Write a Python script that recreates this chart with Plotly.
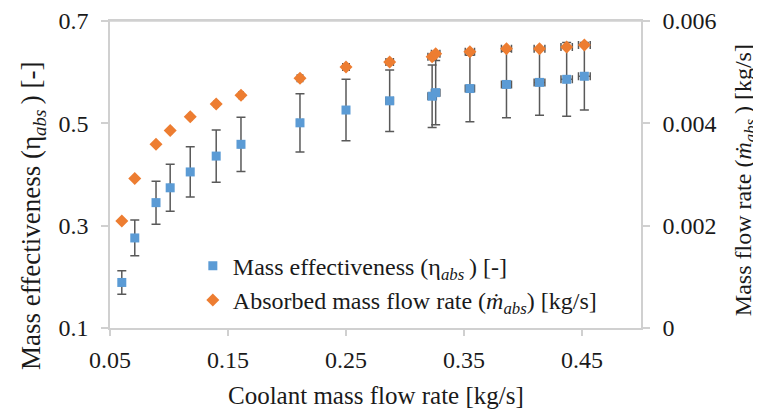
import plotly.graph_objects as go

coolant_flow = [0.060, 0.071, 0.089, 0.101, 0.118, 0.140, 0.161, 0.211, 0.250, 0.287,
                0.323, 0.326, 0.355, 0.386, 0.414, 0.437, 0.452]
mass_eff = [0.189, 0.276, 0.345, 0.374, 0.405, 0.436, 0.459, 0.501, 0.526, 0.544,
            0.553, 0.560, 0.568, 0.576, 0.580, 0.586, 0.592]
mass_eff_err = [0.023, 0.035, 0.042, 0.046, 0.049, 0.051, 0.053, 0.057, 0.060, 0.060,
                0.061, 0.063, 0.065, 0.065, 0.064, 0.072, 0.066]
abs_flow = [0.00209, 0.00292, 0.00359, 0.00386, 0.00413, 0.00438, 0.00455, 0.00488, 0.00510,
            0.00520, 0.00530, 0.00536, 0.00540, 0.00546, 0.00546, 0.00549, 0.00553]

x_ticks = [0.05, 0.15, 0.25, 0.35, 0.45]
y_ticks = [0.1, 0.3, 0.5, 0.7]
y2_ticks = [0, 0.002, 0.004, 0.006]
y2_labels = ["0", "0.002", "0.004", "0.006"]

x_title = "Coolant mass flow rate [kg/s]"
y_title = "Mass effectiveness (η<sub><i>abs</i></sub>\u2009) [-]"
y2_title = "Mass flow rate (<i>ṁ</i><sub><i>abs</i></sub>\u2009) [kg/s]"
name_eff = "Mass effectiveness (η<sub><i>abs</i></sub>\u2009) [-]"
name_flow = "Absorbed mass flow rate (<i>ṁ</i><sub><i>abs</i></sub>) [kg/s]"

FONT = "Liberation Serif"
TXT = "#1a1a1a"
AX = "#d0d0d0"

fig = go.Figure()
fig.add_trace(go.Scatter(
    x=coolant_flow, y=mass_eff, mode="markers", yaxis="y", name=name_eff,
    marker=dict(symbol="square", size=9, color="#5B9BD5"),
    error_y=dict(type="data", array=mass_eff_err, color="#595959", thickness=1.5, width=4.5),
    error_x=dict(type="percent", value=1.1, color="#595959", thickness=1.5, width=4),
))
fig.add_trace(go.Scatter(
    x=coolant_flow, y=abs_flow, mode="markers", yaxis="y2", name=name_flow,
    marker=dict(symbol="diamond", size=10, color="#ED7D31"),
    error_x=dict(type="percent", value=1.1, color="#595959", thickness=1.5, width=4),
))

tick_font = dict(family=FONT, size=24, color=TXT)
axis_common = dict(showgrid=False, zeroline=False, showline=True, linecolor=AX, linewidth=1.5,
                   ticks="outside", tickcolor=AX, tickwidth=1.5, automargin=False,
                   tickfont=tick_font)

fig.update_layout(
    width=753, height=402,
    margin=dict(l=102, r=120, t=13, b=82, autoexpand=False),
    paper_bgcolor="white", plot_bgcolor="white",
    font=dict(family=FONT, size=24, color=TXT),
    showlegend=True,
    legend=dict(x=0.156, y=0.275, xanchor="left", yanchor="top",
                bgcolor="rgba(0,0,0,0)", font=dict(family=FONT, size=24, color=TXT),
                tracegroupgap=0),
    xaxis=dict(range=[0.05, 0.5], tickvals=x_ticks, ticktext=[f"{v:.2f}" for v in x_ticks],
               mirror=True, ticklen=6, ticklabelstandoff=3, **axis_common),
    yaxis=dict(range=[0.1, 0.7], tickvals=y_ticks, ticktext=[f"{v:.1f}" for v in y_ticks],
               ticklen=7, ticklabelstandoff=8, **axis_common),
    yaxis2=dict(range=[0, 0.006], tickvals=y2_ticks, ticktext=y2_labels,
                overlaying="y", side="right", ticklen=7, ticklabelstandoff=8, **axis_common),
    shapes=[dict(type="line", xref="paper", yref="paper", x0=0, x1=1, y0=1, y1=1,
                 line=dict(color=AX, width=1.5), layer="below")],
    annotations=[
        dict(text=x_title, xref="paper", yref="paper", x=0.5, y=-0.22,
             xanchor="center", yanchor="middle", showarrow=False,
             font=dict(family=FONT, size=25, color=TXT)),
        dict(text=y_title, xref="paper", yref="paper", x=-0.145, y=0.365,
             xanchor="center", yanchor="middle", textangle=-90, showarrow=False,
             font=dict(family=FONT, size=27, color=TXT)),
        dict(text=y2_title, xref="paper", yref="paper", x=1.195, y=0.48,
             xanchor="center", yanchor="middle", textangle=-90, showarrow=False,
             font=dict(family=FONT, size=24, color=TXT)),
    ],
)

fig.write_html("out.html")
